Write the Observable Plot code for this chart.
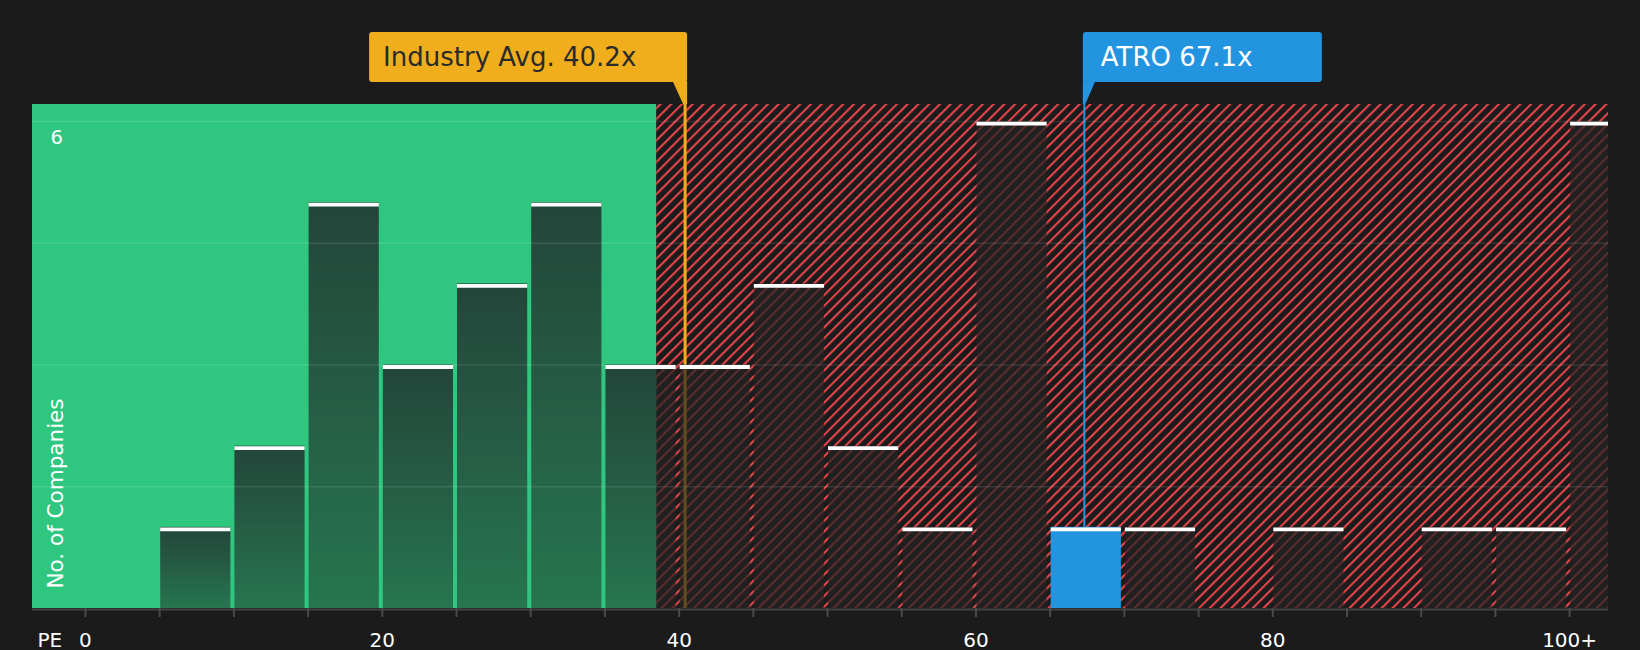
<!DOCTYPE html>
<html>
<head>
<meta charset="utf-8">
<script src="https://cdn.jsdelivr.net/npm/d3@7"></script>
<script src="https://cdn.jsdelivr.net/npm/@observablehq/plot@0.6"></script>
<style>
  html, body { margin: 0; padding: 0; background: #1b1b1b; }
  #chart { width: 1640px; height: 650px; overflow: hidden; }
  #chart svg { display: block; }
</style>
</head>
<body>
<div id="chart"></div>
<script>
// ---------- data ----------
const binStarts = [0, 5, 10, 15, 20, 25, 30, 35, 40, 45, 50, 55, 60, 65, 70, 75, 80, 85, 90, 95, 100];
const binCounts = [0, 1, 2, 5, 3, 4, 5, 3, 3, 4, 2, 1, 6, 1, 1, 0, 1, 0, 1, 1, 6];
const binWidth = 5;
const xTickValues = [0, 20, 40, 60, 80, 100];
const xTickLabels = ["0", "20", "40", "60", "80", "100+"];
const xMinorTicks = [0, 5, 10, 15, 20, 25, 30, 35, 40, 45, 50, 55, 60, 65, 70, 75, 80, 85, 90, 95, 100];
const yGridValues = [1.5, 3, 4.5, 6];
const yTickValues = [6];
const yTickLabels = ["6"];
const xAxisLabel = "PE";
const yAxisLabel = "No. of Companies";
const industryAvg = 40.2;
const industryLabel = "Industry Avg. 40.2x";
const companyPE = 67.1;
const companyLabel = "ATRO 67.1x";
const fairThreshold = 38.5;
const xDomain = [-3.57, 102.62];
const yDomain = [0, 6.21];

// ---------- layout / style ----------
const W = 1640, H = 650;
const mL = 32, mR = 32, mT = 104, mB = 42;
const frameH = H - mT - mB;
const GREEN = "#2fc77f", RED = "#e3454a", ORANGE = "#f0ae1c", BLUE = "#2394e0";
const FONT = "DejaVu Sans";
const lineShift = 3;

const bins = binStarts.map((s, i) => ({x1: s, x2: s + binWidth, count: binCounts[i]})).filter(d => d.count > 0);
const inCompany = d => companyPE >= d.x1 && companyPE < d.x2;
const darkBins = bins.filter(d => !inCompany(d));
const companyBins = bins.filter(inCompany);

const chart = Plot.plot({
  width: W, height: H,
  marginLeft: mL, marginRight: mR, marginTop: mT, marginBottom: mB,
  x: {domain: xDomain, axis: null},
  y: {domain: yDomain, axis: null},
  style: {background: "#1b1b1b", color: "white", fontFamily: FONT, overflow: "visible"},
  marks: [
    // background zones
    Plot.rect([{a: xDomain[0], b: fairThreshold}], {x1: "a", x2: "b", fill: GREEN}),
    Plot.rect([{a: fairThreshold, b: xDomain[1]}], {x1: "a", x2: "b", fill: "url(#hatch)"}),
    // reference lines
    Plot.ruleX([industryAvg], {x: d => d, stroke: ORANGE, strokeWidth: 3, dx: lineShift}),
    Plot.ruleX([companyPE], {x: d => d, stroke: BLUE, strokeWidth: 2, dx: lineShift}),
    // bars
    Plot.rect(darkBins, {x1: "x1", x2: "x2", y1: 0, y2: "count", fill: "url(#barGrad)", insetLeft: 1, insetRight: 3, ariaDescription: "bars-green"}),
    Plot.rect(darkBins, {x1: "x1", x2: "x2", y1: 0, y2: "count", fill: "#222222", fillOpacity: 0.7, insetLeft: 1, insetRight: 3, ariaDescription: "bars-red"}),
    Plot.rect(companyBins, {x1: "x1", x2: "x2", y1: 0, y2: "count", fill: BLUE, insetLeft: 1, insetRight: 3, clip: true}),
    // grid
    Plot.ruleY(yGridValues, {y: d => d, stroke: "white", strokeOpacity: 0.1, strokeWidth: 1.5}),
    // bar tops
    Plot.ruleY(bins, {y: "count", x1: "x1", x2: "x2", stroke: "white", strokeWidth: 3.8, dy: 2, insetLeft: 1, insetRight: 3, clip: true}),
    // x axis
    Plot.ruleY([0], {y: d => d, stroke: "#444444", strokeWidth: 2, dy: 1}),
    Plot.ruleX(xMinorTicks, {x: d => d, stroke: "#4a4a4a", strokeWidth: 2, insetTop: frameH, insetBottom: -9}),
    Plot.text(xTickValues, {x: d => d, text: (d, i) => xTickLabels[i], frameAnchor: "bottom", dy: 38, fill: "white", fontSize: 20, fontFamily: FONT}),
    Plot.text([xAxisLabel], {text: d => d, frameAnchor: "bottom-left", textAnchor: "start", dx: 5, dy: 38, fill: "white", fontSize: 20, fontFamily: FONT}),
    // y labels
    Plot.text(yTickValues, {y: d => d, text: (d, i) => yTickLabels[i], frameAnchor: "left", textAnchor: "start", dx: 18, dy: 16, fill: "white", fontSize: 19.5, fontFamily: FONT}),
    Plot.text([yAxisLabel], {text: d => d, frameAnchor: "bottom-left", textAnchor: "start", rotate: -90, dx: 30, dy: -20, fill: "white", fontSize: 21.5, fontFamily: FONT})
  ]
});

document.getElementById("chart").appendChild(chart);

// ---------- defs: hatch, gradient, clip paths ----------
const svg = d3.select(chart);
const xs = chart.scale("x");
const defs = svg.insert("defs", ":first-child");
const pat = defs.append("pattern").attr("id", "hatch").attr("patternUnits", "userSpaceOnUse")
  .attr("width", 7.6).attr("height", 20).attr("patternTransform", "rotate(45)");
pat.append("rect").attr("width", 7.6).attr("height", 20).attr("fill", "#1b1b1b");
pat.append("rect").attr("width", 2.1).attr("height", 20).attr("fill", RED);

const grad = defs.append("linearGradient").attr("id", "barGrad").attr("x1", 0).attr("y1", 0).attr("x2", 0).attr("y2", 1);
grad.append("stop").attr("offset", 0).attr("stop-color", "#23453a");
grad.append("stop").attr("offset", 1).attr("stop-color", "#277550");

const splitPx = xs.apply(fairThreshold);
defs.append("clipPath").attr("id", "clipGreen").append("rect")
  .attr("x", mL).attr("y", 0).attr("width", splitPx - mL).attr("height", H);
defs.append("clipPath").attr("id", "clipRed").append("rect")
  .attr("x", splitPx).attr("y", 0).attr("width", W - mR - splitPx).attr("height", H);

let gGreen = svg.select('[aria-description="bars-green"]');
let gRed = svg.select('[aria-description="bars-red"]');
if (gGreen.empty() || gRed.empty()) {
  const rectGroups = svg.selectAll('g[aria-label="rect"]').nodes();
  gGreen = d3.select(rectGroups[2]);
  gRed = d3.select(rectGroups[3]);
}
gGreen.attr("clip-path", "url(#clipGreen)");
gRed.attr("clip-path", "url(#clipRed)");

// ---------- annotation callouts ----------
const boxTop = 32, boxBottom = 82, tipY = 104;
const ann = svg.append("g").attr("text-anchor", "start");

// industry average (box to the left of its line)
const ix = xs.apply(industryAvg) + lineShift;
const iRight = ix + 2.5, iWidth = 318, iLeft = iRight - iWidth;
ann.append("rect").attr("x", iLeft).attr("y", boxTop).attr("width", iWidth).attr("height", boxBottom - boxTop)
  .attr("rx", 3).attr("fill", ORANGE);
ann.append("path").attr("fill", ORANGE)
  .attr("d", `M${iRight - 14.5},${boxBottom - 1} L${iRight},${boxBottom - 1} L${iRight},${tipY} L${iRight - 4},${tipY} Z`);
ann.append("text").attr("x", iLeft + 14).attr("y", 66).attr("fill", "#2a2a2a").attr("text-anchor", "start")
  .attr("font-family", FONT).attr("font-size", 26).text(industryLabel);

// company (box to the right of its line)
const cx = xs.apply(companyPE) + lineShift;
const cLeft = cx - 1, cWidth = 239;
ann.append("rect").attr("x", cLeft).attr("y", boxTop).attr("width", cWidth).attr("height", boxBottom - boxTop)
  .attr("rx", 3).attr("fill", BLUE);
ann.append("path").attr("fill", BLUE)
  .attr("d", `M${cLeft},${boxBottom - 1} L${cLeft + 12.5},${boxBottom - 1} L${cLeft + 2.5},${tipY} L${cLeft},${tipY} Z`);
ann.append("text").attr("x", cLeft + 18).attr("y", 66).attr("fill", "white").attr("text-anchor", "start")
  .attr("font-family", FONT).attr("font-size", 26).text(companyLabel);
</script>
</body>
</html>
